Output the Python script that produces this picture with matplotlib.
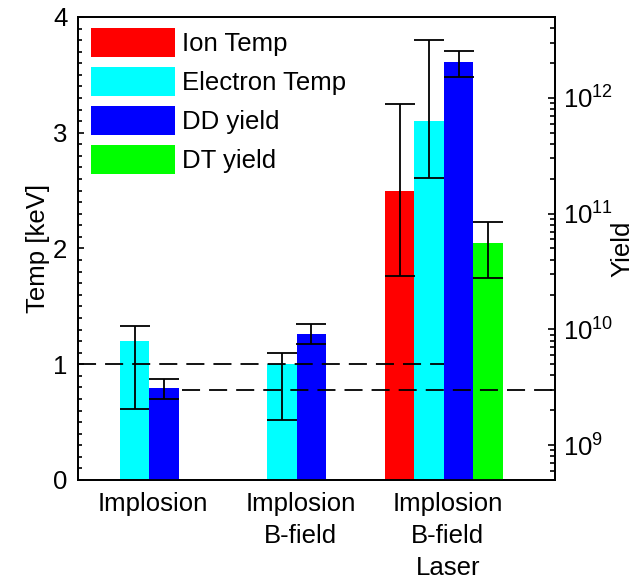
import numpy as np
import matplotlib
matplotlib.use("Agg")
import matplotlib.pyplot as plt
from matplotlib.ticker import MultipleLocator, LogLocator, FuncFormatter, NullFormatter
from matplotlib.patches import Patch

plt.rcParams['font.family'] = ['Liberation Sans', 'DejaVu Sans']
plt.rcParams['mathtext.fontset'] = 'custom'
plt.rcParams['mathtext.rm'] = 'Liberation Sans'
plt.rcParams['lines.scale_dashes'] = False

nan = np.nan
groups = ["Implosion", "Implosion\nB-field", "Implosion\nB-field\nLaser"]
series_names = ["Ion Temp", "Electron Temp", "DD yield", "DT yield"]
series_colors = ["#ff0000", "#00ffff", "#0000ff", "#00ff00"]

ion_temp = [nan, nan, 2.5]
ion_err_lo = [nan, nan, 1.76]
ion_err_hi = [nan, nan, 3.25]

elec_temp = [1.2, 1.0, 3.1]
elec_err_lo = [0.61, 0.52, 2.61]
elec_err_hi = [1.33, 1.10, 3.80]

dd_yield = [3.1e9, 9.2e9, 2.03e12]
dd_err_lo = [2.5e9, 7.5e9, 1.51e12]
dd_err_hi = [3.7e9, 1.11e10, 2.56e12]

dt_yield = [nan, nan, 5.6e10]
dt_err_lo = [nan, nan, 2.77e10]
dt_err_hi = [nan, nan, 8.4e10]

temp_ref = 1.0      # keV dashed line
yield_ref = 3.0e9   # yield dashed line

temp_lim = (0, 4)
yield_lim = (5e8, 5e12)

FS = 18.5
W = 0.2
offsets = [-1.5 * W, -0.5 * W, 0.5 * W, 1.5 * W]
xg = np.arange(1, len(groups) + 1)

fig = plt.figure(figsize=(6.37, 5.86), dpi=100)
ax = fig.add_axes([0.1225, 0.1809, 0.7488, 0.7901])
ax2 = ax.twinx()

# temperature bars
ax.bar(xg + offsets[0], ion_temp, W, color=series_colors[0], linewidth=0)
ax.bar(xg + offsets[1], elec_temp, W, color=series_colors[1], linewidth=0)
# yield bars
b = yield_lim[0]
ax2.bar(xg + offsets[2], np.array(dd_yield) - b, W, bottom=b, color=series_colors[2], linewidth=0)
ax2.bar(xg + offsets[3], np.array(dt_yield) - b, W, bottom=b, color=series_colors[3], linewidth=0)

ekw = dict(fmt='none', ecolor='black', elinewidth=1.3, capsize=10.8, capthick=1.3)

def add_err(a, x, lo, hi):
    lo = np.array(lo, float); hi = np.array(hi, float)
    mid = (lo + hi) / 2
    a.errorbar(x, mid, yerr=[mid - lo, hi - mid], zorder=4, **ekw)

add_err(ax, xg + offsets[0], ion_err_lo, ion_err_hi)
add_err(ax, xg + offsets[1], elec_err_lo, elec_err_hi)
add_err(ax2, xg + offsets[2], dd_err_lo, dd_err_hi)
add_err(ax2, xg + offsets[3], dt_err_lo, dt_err_hi)

xlim = (0.516, 3.755)
ax.set_xlim(*xlim)
ax2.set_xlim(*xlim)

# dashed reference lines (on top axes)
ax2.plot([xlim[0], 3.0], [temp_ref, temp_ref], transform=ax.transData,
         color='black', lw=1.3, dashes=(13, 6.5), zorder=5)
ax2.plot([1.22, xlim[1]], [yield_ref, yield_ref], color='black', lw=1.3,
         dashes=(13, 6.5), zorder=5)

ax.set_ylim(*temp_lim)
ax2.set_yscale('log')
ax2.set_ylim(*yield_lim)

# left axis ticks
ax.yaxis.set_major_locator(MultipleLocator(1))
ax.yaxis.set_minor_locator(MultipleLocator(0.1))
ax.tick_params(axis='y', which='both', direction='in', left=True, right=False,
               labelsize=FS, width=1.2, pad=7.7)
ax.tick_params(axis='y', which='major', length=4)
ax.tick_params(axis='y', which='minor', length=3)
ax.set_xticks(xg + 0.027)
ax.set_xticklabels(groups, linespacing=1.4)
ax.tick_params(axis='x', length=0, labelsize=FS, pad=9)
ax.set_ylabel("Temp [keV]", fontsize=FS)
ax.yaxis.set_label_coords(-0.058, 0.5)

# right axis ticks
ax2.yaxis.set_major_locator(LogLocator(base=10, numticks=20))
ax2.yaxis.set_minor_locator(LogLocator(base=10, subs=np.arange(2, 10), numticks=20))
ax2.yaxis.set_major_formatter(FuncFormatter(lambda v, p: r'$\mathregular{10^{%d}}$' % round(np.log10(v))))
ax2.yaxis.set_minor_formatter(NullFormatter())
ax2.tick_params(axis='y', which='both', direction='in', labelsize=FS, width=1.2, pad=6)
ax2.tick_params(axis='y', which='major', length=5)
ax2.tick_params(axis='y', which='minor', length=3.5)
ax2.set_ylabel("Yield", fontsize=FS)
ax2.yaxis.set_label_coords(1.116, 0.5)

for a in (ax, ax2):
    for s in a.spines.values():
        s.set_linewidth(1.3)

handles = [Patch(facecolor=c, edgecolor='none') for c in series_colors]
ax2.legend(handles, series_names, loc='upper left', bbox_to_anchor=(0.0266, 0.976),
           frameon=False, fontsize=FS, borderpad=0, borderaxespad=0,
           handlelength=3.28, handleheight=1.34, handletextpad=0.28, labelspacing=0.40)

fig.savefig("out.png", dpi=100)
